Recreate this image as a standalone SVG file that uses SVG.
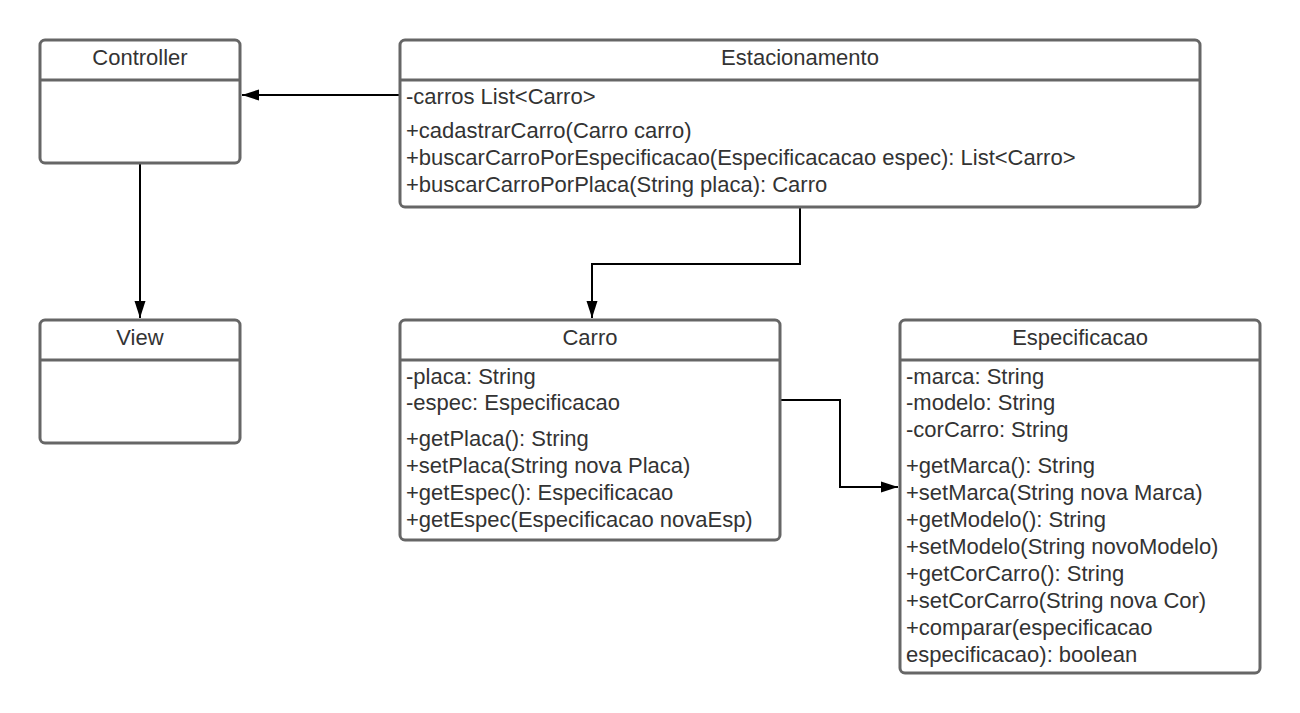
<svg xmlns="http://www.w3.org/2000/svg" width="1300" height="713" viewBox="0 0 1300 713">
<defs>
<style>
.box{fill:#ffffff;stroke:#666666;stroke-width:3}
.div{stroke:#666666;stroke-width:3}
.t{font-family:"Liberation Sans",Arial,sans-serif;font-size:22px;fill:#333333}
.h{text-anchor:middle}
.c{fill:none;stroke:#000000;stroke-width:2}
</style>
<marker id="arr" markerUnits="userSpaceOnUse" markerWidth="18" markerHeight="12" refX="17" refY="6" orient="auto" viewBox="0 0 18 12">
<path d="M0,0.5 L17,6 L0,11.5 z" fill="#000000"/>
</marker>
</defs>
<rect width="1300" height="713" fill="#ffffff"/>
<g id="connectors">
<path class="c" d="M400,95 L242,95" marker-end="url(#arr)"/>
<path class="c" d="M140,164 L140,318" marker-end="url(#arr)"/>
<path class="c" d="M800,207 L800,264 L592,264 L592,318" marker-end="url(#arr)"/>
<path class="c" d="M780,400 L840,400 L840,487 L898,487" marker-end="url(#arr)"/>
<path class="c" d="M605,350 L705,350" marker-end="url(#arr)"/>
</g>
<g id="controller">
<rect class="box" x="40" y="40" width="200" height="123" rx="5"/>
<line class="div" x1="40" y1="80" x2="240" y2="80"/>
<text class="t h" x="140" y="65">Controller</text>
</g>
<g id="estacionamento">
<rect class="box" x="400" y="40" width="800" height="167" rx="5"/>
<line class="div" x1="400" y1="80" x2="1200" y2="80"/>
<text class="t h" x="800" y="65">Estacionamento</text>
<text class="t" x="406" y="104">-carros List&lt;Carro&gt;</text>
<text class="t" x="406" y="138">+cadastrarCarro(Carro carro)</text>
<text class="t" x="406" y="165">+buscarCarroPorEspecificacao(Especificacacao espec): List&lt;Carro&gt;</text>
<text class="t" x="406" y="192">+buscarCarroPorPlaca(String placa): Carro</text>
</g>
<g id="view">
<rect class="box" x="40" y="320" width="200" height="123" rx="5"/>
<line class="div" x1="40" y1="360" x2="240" y2="360"/>
<text class="t h" x="140" y="345">View</text>
</g>
<g id="carro">
<rect class="box" x="400" y="320" width="380" height="220" rx="5"/>
<line class="div" x1="400" y1="360" x2="780" y2="360"/>
<text class="t h" x="590" y="345">Carro</text>
<text class="t" x="406" y="384">-placa: String</text>
<text class="t" x="406" y="410">-espec: Especificacao</text>
<text class="t" x="406" y="446">+getPlaca(): String</text>
<text class="t" x="406" y="473">+setPlaca(String nova Placa)</text>
<text class="t" x="406" y="500">+getEspec(): Especificacao</text>
<text class="t" x="406" y="527">+getEspec(Especificacao novaEsp)</text>
</g>
<g id="especificacao">
<rect class="box" x="900" y="320" width="360" height="353" rx="5"/>
<line class="div" x1="900" y1="360" x2="1260" y2="360"/>
<text class="t h" x="1080" y="345">Especificacao</text>
<text class="t" x="906" y="384">-marca: String</text>
<text class="t" x="906" y="410">-modelo: String</text>
<text class="t" x="906" y="437">-corCarro: String</text>
<text class="t" x="906" y="473">+getMarca(): String</text>
<text class="t" x="906" y="500">+setMarca(String nova Marca)</text>
<text class="t" x="906" y="527">+getModelo(): String</text>
<text class="t" x="906" y="554">+setModelo(String novoModelo)</text>
<text class="t" x="906" y="581">+getCorCarro(): String</text>
<text class="t" x="906" y="608">+setCorCarro(String nova Cor)</text>
<text class="t" x="906" y="635">+comparar(especificacao</text>
<text class="t" x="906" y="662">especificacao): boolean</text>
</g>
</svg>
